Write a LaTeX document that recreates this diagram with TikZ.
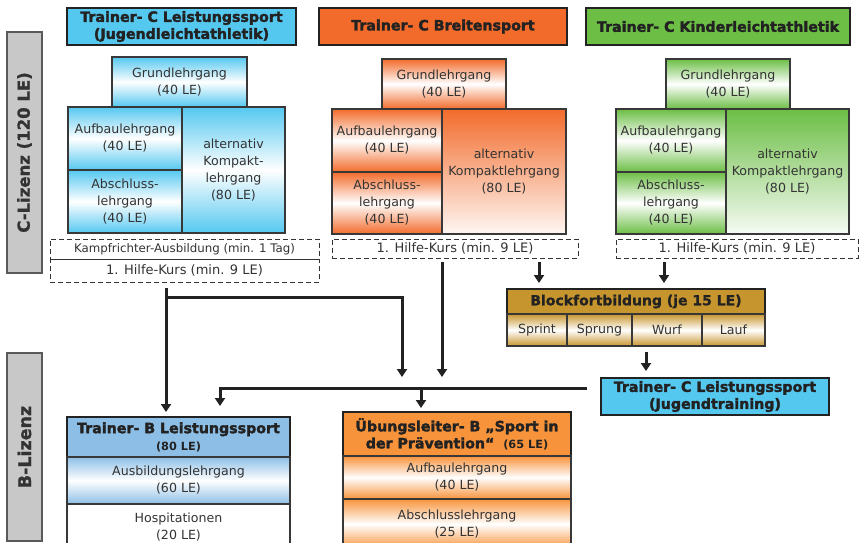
\documentclass[tikz,border=0pt]{standalone}
\usepackage{fontspec}
\setmainfont{DejaVu Sans}
\newfontfamily\hfont{DejaVu Sans}[BoldFeatures={FakeBold=2.2}]
\newfontfamily\bfont{DejaVu Sans}[BoldFeatures={FakeBold=1}]
\usetikzlibrary{arrows.meta,calc}
\definecolor{cyanC}{HTML}{55C8F0}
\definecolor{orangeC}{HTML}{F26B2B}
\definecolor{greenC}{HTML}{6CBE45}
\definecolor{goldC}{HTML}{C7952E}
\definecolor{blueB}{HTML}{8DBFE6}
\definecolor{orangeB}{HTML}{F7933B}
\definecolor{grayBar}{HTML}{C8C8C8}
\definecolor{txt}{HTML}{333333}
\definecolor{ink}{HTML}{222222}
\newcommand\bx[7]{\node[#6, minimum width=#4pt-#2pt, minimum height=#5pt-#3pt] (#1) at ({(#2+#4)/2},{(#3+#5)/2}) {#7};}
\begin{document}
\begin{tikzpicture}[x=1pt,y=-1pt,
  every node/.style={inner sep=0pt, outer sep=0pt, align=center, text=txt},
  body/.style={font=\fontsize{12.6}{17}\selectfont},
  cell/.style={draw=ink!90, line width=1.1pt, body},
  grad/.style={top color=#1, bottom color=#1, middle color=white},
  gradK/.style={top color=#1, bottom color=#1!6},
  title/.style={draw=ink, line width=1.8pt, text=ink, font=\hfont\bfseries\fontsize{14.2}{17}\selectfont},
  head/.style={draw=ink, line width=1.4pt, text=ink, font=\hfont\bfseries\fontsize{14.2}{17}\selectfont},
  dbox/.style={draw=txt, line width=0.8pt, dash pattern=on 5pt off 3pt, font=\fontsize{13}{15}\selectfont},
  bar/.style={draw=black!65, line width=1.2pt, fill=grayBar, text=txt},
  conn/.style={draw=ink, line width=3pt, -{Triangle[width=10pt,length=8pt]}},
]
\useasboundingbox (0,0) rectangle (863,543);
\fill[white] (0,0) rectangle (863,543);

% side bars
\node[bar, rotate=90, minimum width=241pt, minimum height=35pt, font=\bfont\bfseries\fontsize{16.5}{18}\selectfont] (cl) at (24.5,152.5) {C-Lizenz (120 LE)};
\node[bar, rotate=90, minimum width=188pt, minimum height=35pt, font=\bfont\bfseries\fontsize{17.5}{19}\selectfont] (bl) at (24.5,447) {B-Lizenz};

% column 1
\bx{t1}{67}{8}{296}{45}{title, fill=cyanC}{Trainer- C Leistungssport\\(Jugendleichtathletik)}
\bx{g1}{112}{57}{247}{107}{cell, grad=cyanC}{Grundlehrgang\\(40 LE)}
\bx{a1}{68}{107}{182}{170}{cell, grad=cyanC}{Aufbaulehrgang\\(40 LE)}
\bx{s1}{68}{170}{182}{233}{cell, grad=cyanC}{Abschluss-\\lehrgang\\(40 LE)}
\bx{k1}{182}{107}{285}{233}{cell, grad=cyanC}{alternativ\\Kompakt-\\lehrgang\\(80 LE)}
\bx{kr1}{50}{239}{319}{259}{dbox, font=\fontsize{11.8}{14}\selectfont}{Kampfrichter-Ausbildung (min. 1 Tag)}
\bx{h1}{50}{259}{319}{282}{dbox}{1. Hilfe-Kurs (min. 9 LE)}

% column 2
\bx{t2}{319}{8}{567}{45}{title, fill=orangeC}{Trainer- C Breitensport}
\bx{g2}{382}{59}{506}{109}{cell, grad=orangeC}{Grundlehrgang\\(40 LE)}
\bx{a2}{332}{109}{442}{172}{cell, grad=orangeC}{Aufbaulehrgang\\(40 LE)}
\bx{s2}{332}{172}{442}{234}{cell, grad=orangeC}{Abschluss-\\lehrgang\\(40 LE)}
\bx{k2}{442}{109}{566}{234}{cell, gradK=orangeC}{alternativ\\Kompaktlehrgang\\(80 LE)}
\bx{h2}{332}{239}{578}{258}{dbox}{1. Hilfe-Kurs (min. 9 LE)}

% column 3
\bx{t3}{586}{8}{850}{45}{title, fill=greenC}{Trainer- C Kinderleichtathletik}
\bx{g3}{666}{59}{790}{109}{cell, grad=greenC}{Grundlehrgang\\(40 LE)}
\bx{a3}{616}{109}{726}{172}{cell, grad=greenC}{Aufbaulehrgang\\(40 LE)}
\bx{s3}{616}{172}{726}{234}{cell, grad=greenC}{Abschluss-\\lehrgang\\(40 LE)}
\bx{k3}{726}{109}{849}{234}{cell, gradK=greenC}{alternativ\\Kompaktlehrgang\\(80 LE)}
\bx{h3}{616}{239}{858}{258}{dbox}{1. Hilfe-Kurs (min. 9 LE)}

% Blockfortbildung
\bx{bh}{507}{289}{765}{314}{head, fill=goldC, line width=1.2pt, font=\bfont\bfseries\fontsize{14}{16}\selectfont}{Blockfortbildung (je 15 LE)}
\bx{c1}{507}{314}{567}{346}{cell, grad=goldC}{Sprint}
\bx{c2}{567}{314}{632}{346}{cell, grad=goldC}{Sprung}
\bx{c3}{632}{314}{702}{346}{cell, grad=goldC}{Wurf}
\bx{c4}{702}{314}{765}{346}{cell, grad=goldC}{Lauf}

% Jugendtraining
\bx{jt}{601}{378}{829}{415}{title, fill=cyanC}{Trainer- C Leistungssport\\(Jugendtraining)}

% Trainer B
\bx{tb}{67}{417}{290}{457}{head, fill=blueB}{Trainer- B Leistungssport\\{\normalfont\bfseries\fontsize{11.3}{13}\selectfont (80 LE)}}
\bx{tba}{67}{457}{290}{504}{cell, grad=blueB}{Ausbildungslehrgang\\(60 LE)}
\bx{tbh}{67}{504}{290}{550}{cell, fill=white}{Hospitationen\\(20 LE)}

% Uebungsleiter B
\bx{ub}{343}{412}{571}{456}{head, fill=orangeB}{Übungsleiter- B „Sport in\\der Prävention“ {\normalfont\bfseries\fontsize{11.3}{13}\selectfont\ (65 LE)}}
\bx{ua}{343}{456}{571}{499}{cell, grad=orangeB}{Aufbaulehrgang\\(40 LE)}
\bx{us}{343}{499}{571}{549}{cell, grad=orangeB}{Abschlusslehrgang\\(25 LE)}

% connectors
\coordinate (xj) at (166,297);
\coordinate (e1) at (402,377);
\coordinate (e2) at (442,377);
\coordinate (xa) at (539,0);
\coordinate (xb) at (664,0);
\coordinate (xc) at (646,0);
\coordinate (bus) at (587,388);
\coordinate (busL) at (220,388);
\coordinate (busM) at (421,388);

\draw[conn, shorten <=6pt, shorten >=5pt] (h1.south -| xj) -- (tb.north -| xj);
\draw[conn] (xj) -| (e1);
\draw[conn, shorten <=4pt] (h2.south -| e2) -- (e2);
\draw[conn, shorten <=4pt, shorten >=6pt] (h2.south -| xa) -- (bh.north -| xa);
\draw[conn, shorten <=4pt, shorten >=6pt] (h3.south -| xb) -- (bh.north -| xb);
\draw[conn, shorten <=6pt, shorten >=7pt] (c3.south -| xc) -- (jt.north -| xc);
\draw[conn, shorten >=11pt] (bus) -- (busL) -- (tb.north -| busL);
\draw[conn, shorten >=4pt] (busM) -- (ub.north -| busM);
\end{tikzpicture}
\end{document}
